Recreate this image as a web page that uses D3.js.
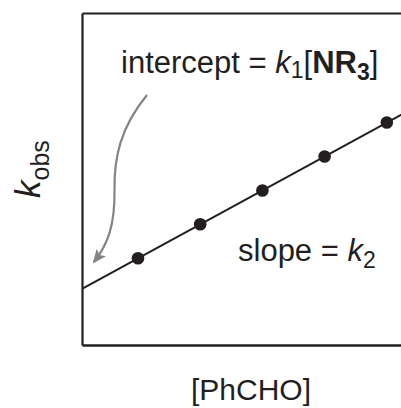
<!DOCTYPE html>
<html>
<head>
<meta charset="utf-8">
<script src="https://cdn.jsdelivr.net/npm/d3@7"></script>
<style>
  html, body { margin: 0; padding: 0; background: #fff; }
  svg { display: block; }
  text { font-family: "Liberation Sans", Arial, Helvetica, sans-serif; fill: #231f20; }
</style>
</head>
<body>
<svg id="chart" width="401" height="408"></svg>
<script>
// Benzaldehyde concentration (arbitrary units) and observed rate constants
const concentration = [0.9, 1.9, 2.9, 3.9, 4.9];
const kObs = [2.55, 3.55, 4.54, 5.54, 6.54];

// Axis extents
const xDomain = [0, 5.16];
const yDomain = [0, 9.76];

const ink = "#231f20";
const svg = d3.select("#chart");
const W = 401, H = 408;
const margin = { left: 82, top: 13, right: -2, bottom: 63 };

const x = d3.scaleLinear().domain(xDomain).range([margin.left, W - margin.right]);
const y = d3.scaleLinear().domain(yDomain).range([H - margin.bottom, margin.top]);

// Least-squares fit: kobs = intercept + slope * [PhCHO]
const mx = d3.mean(concentration), my = d3.mean(kObs);
const slope = d3.sum(concentration, (c, i) => (c - mx) * (kObs[i] - my)) /
              d3.sum(concentration, c => (c - mx) * (c - mx));
const intercept = my - slope * mx;

// Frame: left, bottom and top rules, no ticks
const frame = g => g.call(s => s.selectAll(".tick").remove())
  .call(s => s.select(".domain").attr("stroke", ink));
svg.append("g").attr("transform", `translate(0,${y(yDomain[0])})`)
  .call(d3.axisBottom(x).ticks(0).tickSizeOuter(0)).call(frame)
  .select(".domain").attr("stroke-width", 2.6);
svg.append("g").attr("transform", `translate(0,${y(yDomain[1])})`)
  .call(d3.axisTop(x).ticks(0).tickSizeOuter(0)).call(frame)
  .select(".domain").attr("stroke-width", 2.2);
svg.append("g").attr("transform", `translate(${x(xDomain[0])},0)`)
  .call(d3.axisLeft(y).ticks(0).tickSizeOuter(0)).call(frame)
  .select(".domain").attr("stroke-width", 2.2);

// Fitted line
const fit = d3.line().x(d => x(d)).y(d => y(intercept + slope * d));
svg.append("path")
  .attr("d", fit([xDomain[0], xDomain[1]]))
  .attr("fill", "none").attr("stroke", ink).attr("stroke-width", 2);

// Data points
svg.append("g").selectAll("circle")
  .data(concentration)
  .join("circle")
  .attr("cx", d => x(d))
  .attr("cy", (d, i) => y(kObs[i]))
  .attr("r", 6.3)
  .attr("fill", ink);

// Curved grey arrow pointing at the intercept
const defs = svg.append("defs");
defs.append("marker")
  .attr("id", "head")
  .attr("markerUnits", "userSpaceOnUse")
  .attr("viewBox", "0 -6 14 12")
  .attr("refX", 12).attr("refY", 0)
  .attr("markerWidth", 14).attr("markerHeight", 12)
  .attr("orient", "auto")
  .append("path").attr("d", "M0,-6L14,0L0,6L3,0Z").attr("fill", "#848484");

svg.append("path")
  .attr("d", "M147,95 C120,128 114,158 114.5,190 C115,225 108,244 94,262")
  .attr("fill", "none")
  .attr("stroke", "#848484")
  .attr("stroke-width", 2.2)
  .attr("marker-end", "url(#head)");

// Annotations
const t1 = svg.append("text").attr("x", 121).attr("y", 73).attr("font-size", 31);
t1.append("tspan").text("intercept = ");
t1.append("tspan").attr("font-style", "italic").text("k");
t1.append("tspan").attr("font-size", 23).attr("dy", 5).text("1");
t1.append("tspan").attr("dy", -5).text("[");
t1.append("tspan").attr("font-weight", "bold").text("NR");
t1.append("tspan").attr("font-weight", "bold").attr("font-size", 23).attr("dy", 7).text("3");
t1.append("tspan").attr("dy", -7).text("]");

const t2 = svg.append("text").attr("x", 238).attr("y", 261).attr("font-size", 31);
t2.append("tspan").text("slope = ");
t2.append("tspan").attr("font-style", "italic").text("k");
t2.append("tspan").attr("font-size", 23).attr("dy", 7).text("2");

// Axis titles
svg.append("text")
  .attr("x", 251).attr("y", 400)
  .attr("text-anchor", "middle")
  .attr("font-size", 30)
  .text("[PhCHO]");

const yl = svg.append("text")
  .attr("transform", "translate(40,198) rotate(-90)")
  .attr("font-size", 35);
yl.append("tspan").attr("font-style", "italic").text("k");
yl.append("tspan").attr("font-size", 25).attr("dy", 9).text("obs");
</script>
</body>
</html>
